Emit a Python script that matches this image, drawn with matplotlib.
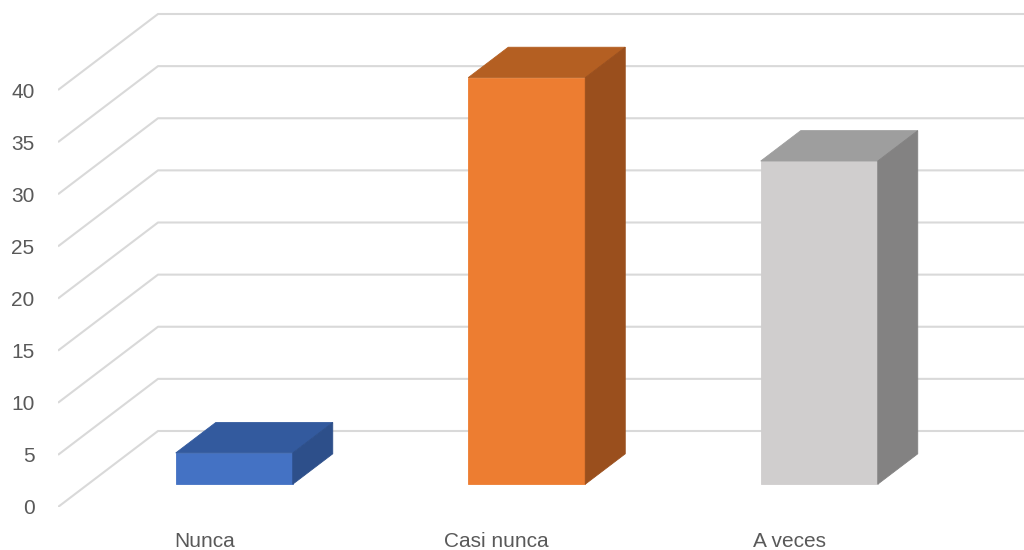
import numpy as np
import matplotlib.pyplot as plt
from matplotlib.patches import Polygon

categories = ['Nunca', 'Casi nunca', 'A veces']
values = [3, 39, 31]
yticks = [0, 5, 10, 15, 20, 25, 30, 35, 40]

front_colors = ['#4472C4', '#ED7D31', '#D0CECE']
top_colors = ['#335A9E', '#B45F22', '#9E9E9E']
side_colors = ['#2D4F8A', '#9A4F1D', '#838282']

plt.rcParams['font.family'] = ['Liberation Sans', 'DejaVu Sans']

# oblique projection: full floor depth moves a point right and up
depth_dx = 100 / 292.5   # in category units
depth_dy = 76 / 10.425   # in value units
bar_front, bar_back = 0.3, 0.7   # depth fractions occupied by the bars
bar_width = 0.4

def proj(x, v, f):
    return (x + f * depth_dx, v + f * depth_dy)

fig = plt.figure(figsize=(10.24, 5.5), dpi=100)
W = (1024 - 58) / 292.5
ax = fig.add_axes([58 / 1024, 43 / 550, 1 - 58 / 1024, 1 - 43 / 550])
ax.set_xlim(0, W)
ax.set_ylim(0, (550 - 43) / 10.425)

grid_kw = dict(color='#D9D9D9', linewidth=1.5, zorder=1, solid_capstyle='butt')
for v in yticks:
    x0, y0 = proj(0, v, 0)
    x1, y1 = proj(0, v, 1)
    x2, y2 = proj(len(categories), v, 1)
    ax.plot([x0, x1, x2], [y0, y1, y2], **grid_kw)

for i, v in enumerate(values):
    left = i + 0.5 - bar_width / 2
    right = i + 0.5 + bar_width / 2
    front = [proj(left, 0, bar_front), proj(right, 0, bar_front),
             proj(right, v, bar_front), proj(left, v, bar_front)]
    top = [proj(left, v, bar_front), proj(right, v, bar_front),
           proj(right, v, bar_back), proj(left, v, bar_back)]
    side = [proj(right, 0, bar_front), proj(right, 0, bar_back),
            proj(right, v, bar_back), proj(right, v, bar_front)]
    for pts, c in [(front, front_colors[i]), (top, top_colors[i]), (side, side_colors[i])]:
        ax.add_patch(Polygon(pts, closed=True, facecolor=c, edgecolor=c,
                             linewidth=0.6, zorder=3))

ax.set_yticks(yticks)
ax.set_yticklabels([str(t) for t in yticks])
ax.set_xticks(np.arange(len(categories)) + 0.5)
ax.set_xticklabels(categories)
ax.tick_params(axis='y', length=0, pad=17, labelsize=15, labelcolor='#595959')
ax.tick_params(axis='x', length=0, pad=18, labelsize=15, labelcolor='#595959')
for s in ax.spines.values():
    s.set_visible(False)

fig.savefig('out.png', dpi=100, facecolor='white')
